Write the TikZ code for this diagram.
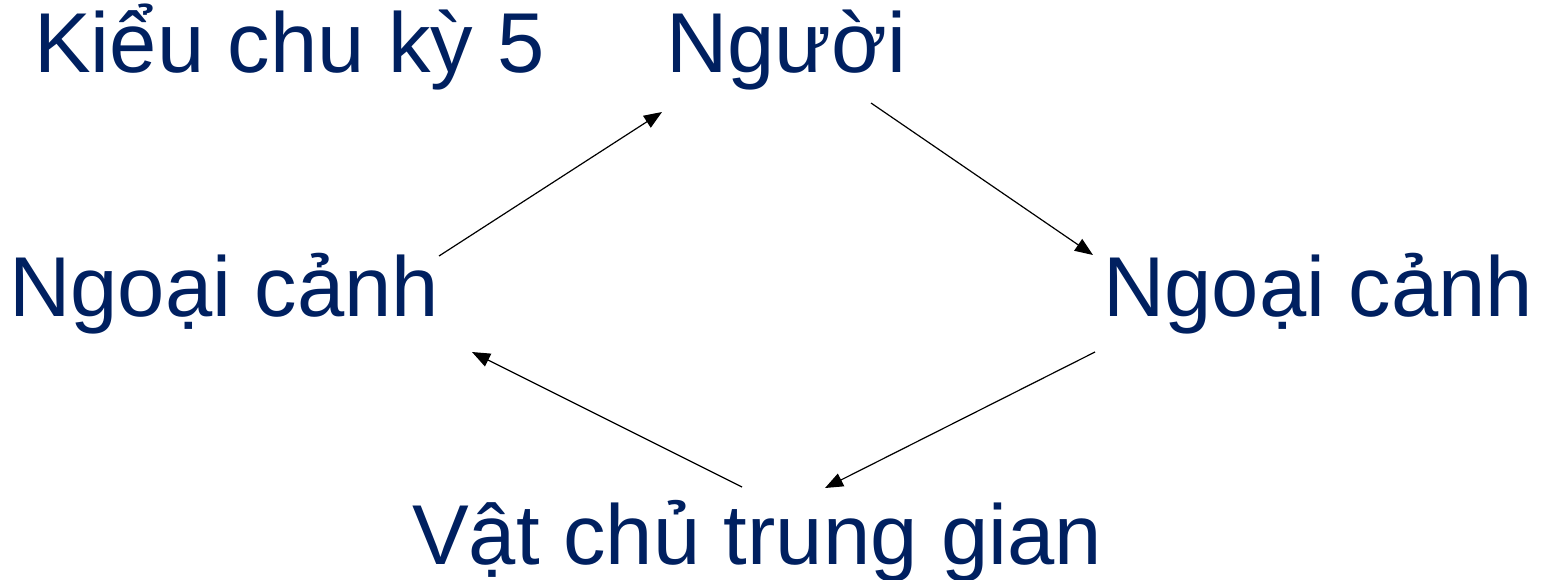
\documentclass[tikz,border=0pt]{standalone}
\usepackage{fontspec}
\setmainfont{Liberation Sans}
\usetikzlibrary{arrows.meta}
\definecolor{navy}{HTML}{002060}
\begin{document}
\begin{tikzpicture}[x=1pt,y=-1pt,
  lbl/.style={anchor=base west,inner sep=0pt,text=navy,font=\fontsize{85}{92}\selectfont},
  conn/.style={draw=black,line width=1.2pt,-{Triangle[length=18pt,width=14pt]}}]
\useasboundingbox (0,0) rectangle (1541,579);
\node[lbl] (T) at (34,72) {Kiểu chu kỳ 5};
\node[lbl] (P) at (666,72) {Người};
\node[lbl] (L) at (9,316) {Ngoại cảnh};
\node[lbl] (R) at (1103,316) {Ngoại cảnh};
\node[lbl] (V) at (412,564) {Vật chủ trung gian};
\draw[conn] ([shift={(430,-60)}]L.base west) -- ([shift={(-4,40)}]P.base west);
\draw[conn] ([shift={(205,31)}]P.base west) -- ([shift={(-10,-61)}]R.base west);
\draw[conn] ([shift={(-8,36)}]R.base west) -- ([shift={(413,-76)}]V.base west);
\draw[conn] ([shift={(330,-77)}]V.base west) -- ([shift={(463,36)}]L.base west);
\end{tikzpicture}
\end{document}
